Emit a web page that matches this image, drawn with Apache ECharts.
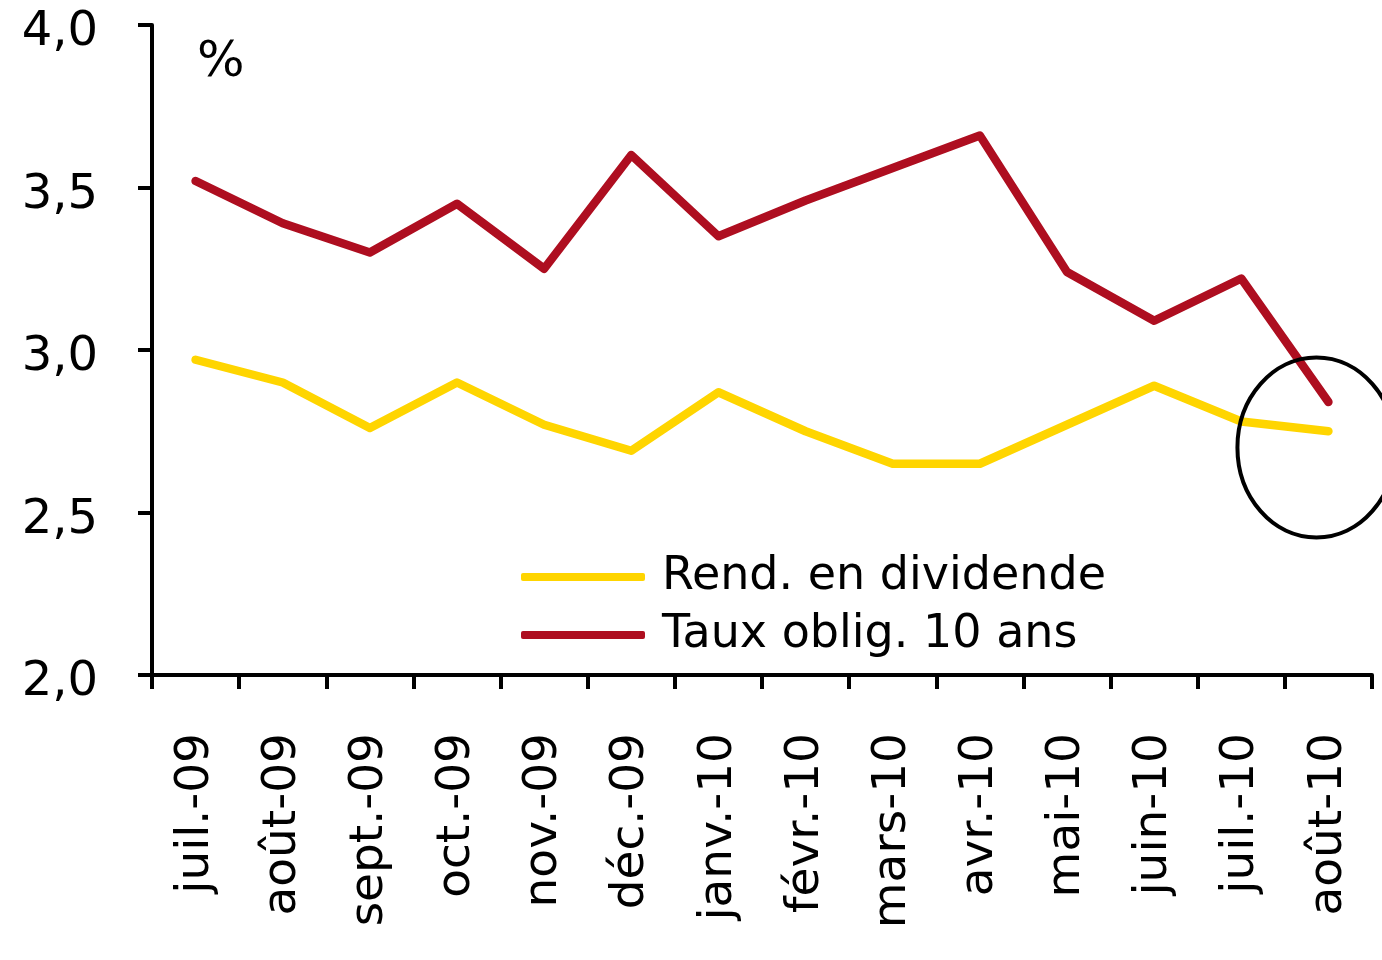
<!DOCTYPE html>
<html>
<head>
<meta charset="utf-8">
<script src="https://cdn.jsdelivr.net/npm/echarts@6/dist/echarts.min.js"></script>
<style>
  html, body { margin: 0; padding: 0; background: #fff; }
  #chart { width: 1382px; height: 960px; }
</style>
</head>
<body>
<div id="chart"></div>
<script>
// mois (axe des x)
const months = ['juil.-09', 'août-09', 'sept.-09', 'oct.-09', 'nov.-09', 'déc.-09',
  'janv.-10', 'févr.-10', 'mars-10', 'avr.-10', 'mai-10', 'juin-10', 'juil.-10', 'août-10'];
// rendement en dividende
const rendDividende = [2.97, 2.90, 2.76, 2.90, 2.77, 2.69, 2.87, 2.75, 2.65, 2.65, 2.77, 2.89, 2.78, 2.75];
// taux obligataire 10 ans
const tauxOblig = [3.52, 3.39, 3.30, 3.45, 3.25, 3.60, 3.35, 3.46, 3.56, 3.66, 3.24, 3.09, 3.22, 2.84];
const seriesNames = ['Rend. en dividende', 'Taux oblig. 10 ans'];

const FONT = 'DejaVu Sans';
const chart = echarts.init(document.getElementById('chart'));

const option = {
  backgroundColor: '#fff',
  animation: false,
  title: {
    text: '%',
    left: 192,
    top: 33,
    textStyle: { fontFamily: FONT, fontSize: 50, fontWeight: 'normal', color: '#000' }
  },
  legend: {
    orient: 'vertical',
    left: 516,
    top: 546,
    icon: 'roundRect',
    itemWidth: 124,
    itemHeight: 8,
    itemGap: 6,
    data: seriesNames,
    textStyle: {
      fontFamily: FONT, fontSize: 46, color: '#000',
      lineHeight: 52, padding: [0, 0, 0, 12]
    }
  },
  grid: { left: 152, right: 10, top: 25, bottom: 285 },
  xAxis: {
    type: 'category',
    data: months,
    boundaryGap: true,
    axisLine: { lineStyle: { color: '#000', width: 4 } },
    axisTick: { show: true, length: 14, inside: false, lineStyle: { color: '#000', width: 4 } },
    axisLabel: {
      rotate: 90, interval: 0, margin: 58,
      fontFamily: FONT, fontSize: 47, color: '#000'
    }
  },
  yAxis: {
    type: 'value',
    min: 2.0, max: 4.0, interval: 0.5,
    splitLine: { show: false },
    axisLine: { show: true, lineStyle: { color: '#000', width: 4 } },
    axisTick: { show: true, length: 14, lineStyle: { color: '#000', width: 4 } },
    axisLabel: {
      margin: 54,
      fontFamily: FONT, fontSize: 48, color: '#000',
      formatter: v => '{v|' + v.toFixed(1).replace('.', ',') + '}',
      rich: {
        v: { fontFamily: FONT, fontSize: 48, color: '#000', padding: [16, 0, 0, 0] }
      }
    }
  },
  series: [
    {
      name: seriesNames[0],
      type: 'line',
      data: rendDividende,
      symbol: 'none',
      lineStyle: { color: '#FFD500', width: 8.5, cap: 'round', join: 'round' },
      itemStyle: { color: '#FFD500' }
    },
    {
      name: seriesNames[1],
      type: 'line',
      data: tauxOblig,
      symbol: 'none',
      lineStyle: { color: '#AE0E20', width: 8.5, cap: 'round', join: 'round' },
      itemStyle: { color: '#AE0E20' }
    }
  ]
};

chart.setOption(option);

// ellipse autour du dernier point
const c = chart.convertToPixel({ gridIndex: 0 }, [months.length - 1, 2.70]);
chart.setOption({
  graphic: [{
    type: 'ellipse',
    shape: { cx: c[0] - 12, cy: c[1], rx: 79, ry: 90 },
    style: { fill: 'none', stroke: '#000', lineWidth: 4 },
    z: 10
  }]
});
</script>
</body>
</html>
